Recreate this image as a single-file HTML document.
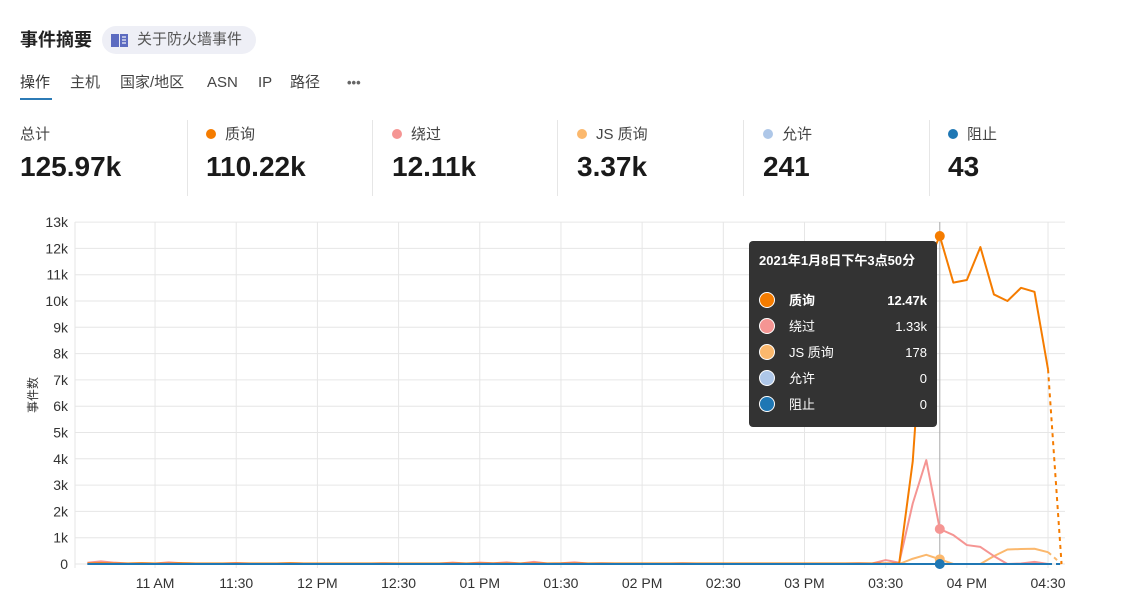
<!DOCTYPE html>
<html><head><meta charset="utf-8">
<style>
body{margin:0;width:1124px;height:597px;overflow:hidden;background:#fff;font-family:"Liberation Sans","Noto Sans CJK SC",sans-serif;color:#333;position:relative}
.abs{position:absolute}
.title{left:20px;top:28px;font-size:18px;font-weight:bold;color:#222;line-height:24px}
.pill{left:102px;top:26px;height:28px;width:154px;border-radius:14px;background:#eeeff6;font-size:15px;color:#555;line-height:28px}
.tab{top:73px;font-size:15px;color:#444;line-height:20px}
.stat-l{top:125px;font-size:15px;color:#444;line-height:20px}
.stat-v{top:150px;font-size:28px;font-weight:bold;color:#1a1a1a;line-height:34px}
.div{top:120px;width:1px;height:76px;background:#e6e6e6}
.dot{display:inline-block;width:10px;height:10px;border-radius:5px;margin-right:9px;vertical-align:0}
.row{left:10px;right:10px;height:18px;line-height:18px}
</style></head><body>
<div class="abs title">事件摘要</div>
<div class="abs pill">
<svg class="abs" style="left:9px;top:7px" width="18" height="14"><path d="M0 1h8v13H0z M9 1h8v13H9z" fill="#5c6bc0"/><path d="M11 4h4M11 7h4M11 10h4" stroke="#eeeff6" stroke-width="1.2"/></svg>
<span class="abs" style="left:35px;top:0">关于防火墙事件</span></div>
<div class="abs tab" style="left:20px;color:#333">操作</div>
<div class="abs" style="left:20px;top:98px;width:32px;height:2px;background:#2c7bb6"></div>
<div class="abs tab" style="left:70px">主机</div>
<div class="abs tab" style="left:120px">国家/地区</div>
<div class="abs tab" style="left:207px">ASN</div>
<div class="abs tab" style="left:258px">IP</div>
<div class="abs tab" style="left:290px">路径</div>
<div class="abs tab" style="left:347px;font-weight:bold;color:#666;font-size:13px">•••</div>

<div class="abs stat-l" style="left:20px">总计</div>
<div class="abs stat-v" style="left:20px">125.97k</div>
<div class="abs div" style="left:187px"></div>
<div class="abs stat-l" style="left:206px"><span class="dot" style="background:#f57c00"></span>质询</div>
<div class="abs stat-v" style="left:206px">110.22k</div>
<div class="abs div" style="left:372px"></div>
<div class="abs stat-l" style="left:392px"><span class="dot" style="background:#f59593"></span>绕过</div>
<div class="abs stat-v" style="left:392px">12.11k</div>
<div class="abs div" style="left:557px"></div>
<div class="abs stat-l" style="left:577px"><span class="dot" style="background:#fbb86d"></span>JS 质询</div>
<div class="abs stat-v" style="left:577px">3.37k</div>
<div class="abs div" style="left:743px"></div>
<div class="abs stat-l" style="left:763px"><span class="dot" style="background:#aec7e8"></span>允许</div>
<div class="abs stat-v" style="left:763px">241</div>
<div class="abs div" style="left:929px"></div>
<div class="abs stat-l" style="left:948px"><span class="dot" style="background:#1f77b4"></span>阻止</div>
<div class="abs stat-v" style="left:948px">43</div>

<svg class="abs" style="left:0;top:0" width="1124" height="597" id="chart"></svg>

<div class="abs" style="left:749px;top:241px;width:188px;height:186px;background:#333;border-radius:4px;color:#fff;font-size:13px">
<div class="abs" style="left:10px;top:12px;font-weight:bold;line-height:16px">2021年1月8日下午3点50分</div>
<div id="tt"></div>
</div>

<script>
const NS="http://www.w3.org/2000/svg";
const yTicks=[0,1,2,3,4,5,6,7,8,9,10,11,12,13];
const xTickLabels=["11 AM","11:30","12 PM","12:30","01 PM","01:30","02 PM","02:30","03 PM","03:30","04 PM","04:30"];
const xTickIdx=[5,11,17,23,29,35,41,47,53,59,65,71]; // indices into 5-min series starting 10:35
const challenge=[0.02,0.03,0.02,0.02,0.03,0.02,0.02,0.03,0.02,0.02,0.02,0.02,0.02,0.02,0.02,0.03,0.02,0.02,0.02,0.02,0.02,0.02,0.02,0.02,0.02,0.02,0.02,0.02,0.02,0.02,0.02,0.02,0.02,0.02,0.02,0.02,0.02,0.02,0.02,0.02,0.02,0.02,0.02,0.02,0.02,0.02,0.02,0.02,0.02,0.02,0.02,0.02,0.02,0.02,0.02,0.02,0.02,0.02,0.02,0.02,
 0.02,3.9,11.3,12.47,10.7,10.8,12.05,10.25,10.0,10.5,10.35,7.4,0];
const bypass=[0.05,0.1,0.05,0.02,0.03,0.02,0.06,0.03,0.02,0.02,0.02,0.04,0.02,0.02,0.02,0.03,0.02,0.02,0.02,0.02,0.02,0.02,0.03,0.02,0.02,0.02,0.02,0.05,0.02,0.05,0.03,0.06,0.02,0.08,0.02,0.03,0.06,0.02,0.03,0.02,0.02,0.02,0.02,0.02,0.03,0.02,0.02,0.02,0.02,0.02,0.02,0.02,0.02,0.02,0.02,0.02,0.02,0.03,0.02,
 0.15,0.05,2.3,3.95,1.33,1.1,0.72,0.65,0.3,0.0,0.02,0.08,0.0,0];
const jsChallenge=[0,0,0,0,0,0,0,0,0,0,0,0,0,0,0,0,0,0,0,0,0,0,0,0,0,0,0,0,0,0,0,0,0,0,0,0,0,0,0,0,0,0,0,0,0,0,0,0,0,0,0,0,0,0,0,0,0,0,0,0,0,
 0.2,0.35,0.178,0,0,0,0.3,0.55,0.57,0.58,0.45,0];
const allow=[0,0,0,0,0,0,0,0,0,0,0,0,0,0,0,0,0,0,0,0,0,0,0,0,0,0,0,0,0,0,0,0,0,0,0,0,0,0,0,0,0,0,0,0,0,0,0,0,0,0,0,0,0,0,0,0,0,0,0,0,0,0,0,0,0,0,0,0,0,0,0,0,0];
const block=[0,0,0,0,0,0,0,0,0,0,0,0,0,0,0,0,0,0,0,0,0,0,0,0,0,0,0,0,0,0,0,0,0,0,0,0,0,0,0,0,0,0,0,0,0,0,0,0,0,0,0,0,0,0,0,0,0,0,0,0,0,0,0,0,0,0,0,0,0,0,0,0,0];
const hoverIdx=63;
const x0=87.4, step=13.53, yBase=564, yPer=26.3;
const X=i=>x0+i*step, Y=v=>yBase-v*yPer;
const svg=document.getElementById('chart');
function el(t,a){const e=document.createElementNS(NS,t);for(const k in a)e.setAttribute(k,a[k]);svg.appendChild(e);return e;}
yTicks.forEach(t=>{
 const g=el('line',{x1:75,x2:1065,y1:Y(t),y2:Y(t),stroke:'#e6e6e6'});
 
 
 const l=el('text',{x:68,y:Y(t)+5,'text-anchor':'end','font-size':14,fill:'#333'});
 l.textContent=t===0?'0':t+'k';
 
 
});
[75].concat(xTickIdx.map(X)).forEach(x=>{el('line',{x1:x,x2:x,y1:222,y2:568,stroke:'#e6e6e6'});});
xTickIdx.forEach((ix,k)=>{
 const l=el('text',{x:X(ix),y:588,'text-anchor':'middle','font-size':14,fill:'#333'});
 l.textContent=xTickLabels[k];
 
 
});
const yt=el('text',{x:37,y:395,transform:'rotate(-90 37 395)','text-anchor':'middle','font-size':12,fill:'#333'});
yt.textContent='事件数';


el('line',{x1:X(hoverIdx),x2:X(hoverIdx),y1:222,y2:568,stroke:'#aaa'});
function series(arr,color,name){
 const n=arr.length;
 let d='';for(let i=0;i<n-1;i++)d+=(i?'L':'M')+X(i)+' '+Y(arr[i]);
 const p=el('path',{d,fill:'none',stroke:color,'stroke-width':2,'stroke-linejoin':'round'});
 
 
 const q=el('path',{d:'M'+X(n-2)+' '+Y(arr[n-2])+'L'+X(n-1)+' '+Y(arr[n-1]),fill:'none',stroke:color,'stroke-width':2,'stroke-dasharray':'4 4'});
 
 
 const c=el('circle',{cx:X(hoverIdx),cy:Y(arr[hoverIdx]),r:5,fill:color});
 
 
}
series(allow,'#aec7e8','allow');
series(jsChallenge,'#fbb86d','js-challenge');
series(bypass,'#f59593','bypass');
series(challenge,'#f57c00','challenge');
series(block,'#1f77b4','block');
const tt=document.getElementById('tt');
[['质询','12.47k','#f57c00',1],['绕过','1.33k','#f59593',0],['JS 质询','178','#fbb86d',0],['允许','0','#aec7e8',0],['阻止','0','#1f77b4',0]].forEach((r,i)=>{
 const d=document.createElement('div');
 d.className='abs row';d.style.top=(51+i*26)+'px';if(r[3])d.style.fontWeight='bold';
 d.innerHTML='<span class="abs" style="left:0;top:0;width:14px;height:14px;border-radius:8px;border:1px solid #fff;background:'+r[2]+'"></span><span class="abs" style="left:30px;top:0">'+r[0]+'</span><span class="abs" style="right:0;top:0">'+r[1]+'</span>';
 
 
 tt.appendChild(d);
});
</script>
</body></html>
